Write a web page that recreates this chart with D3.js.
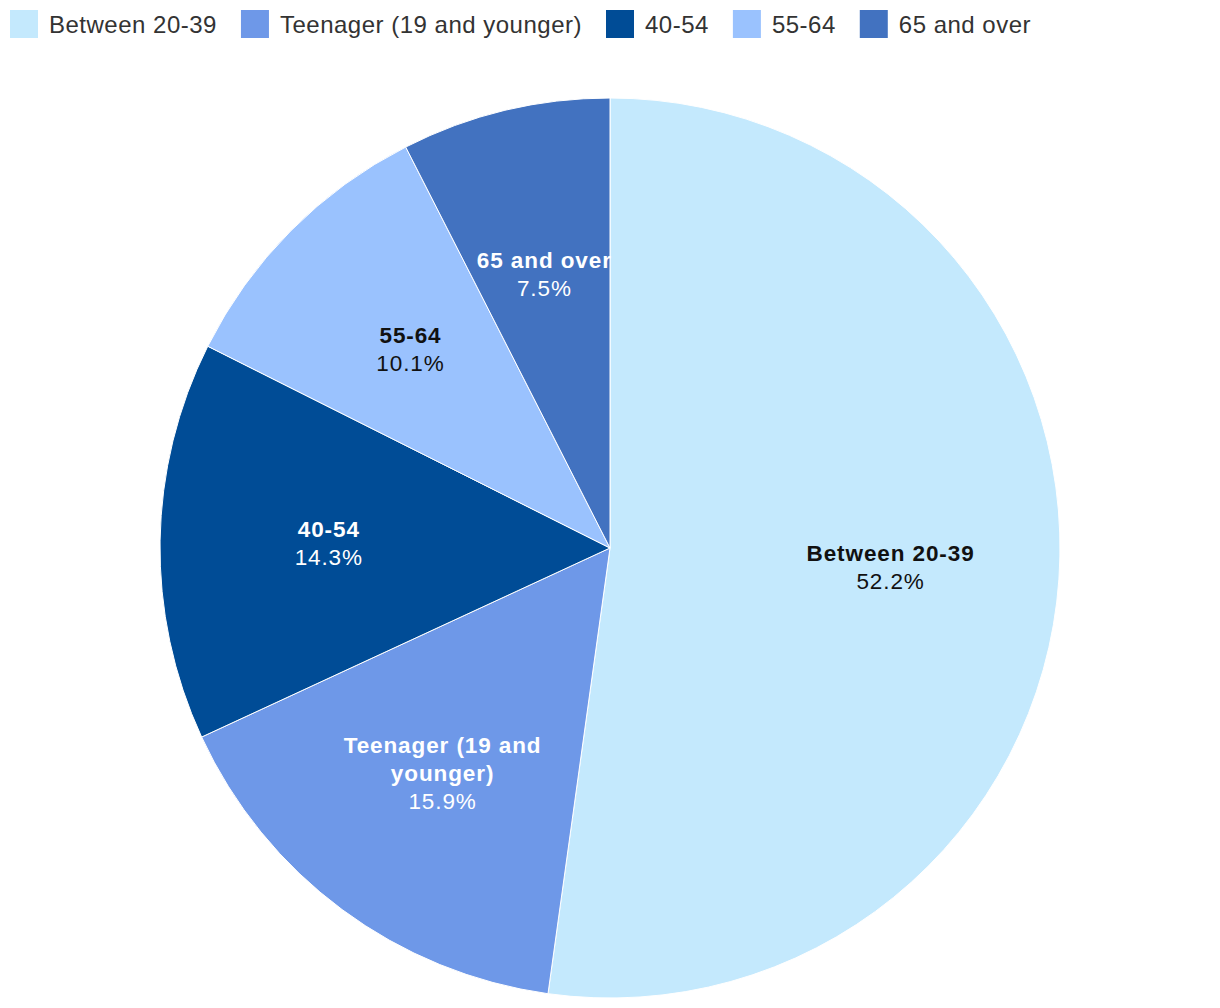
<!DOCTYPE html>
<html>
<head>
<meta charset="utf-8">
<script src="https://cdn.jsdelivr.net/npm/d3@7"></script>
<style>
  html, body { margin: 0; padding: 0; background: #fff; }
  svg { display: block; }
</style>
</head>
<body>
<svg id="chart" width="1220" height="1008"></svg>
<script>
const categories = ["Between 20-39", "Teenager (19 and younger)", "40-54", "55-64", "65 and over"];
const values = [52.2, 15.9, 14.3, 10.1, 7.5];
const colors = ["#c4e9fd", "#6e98e8", "#004c96", "#9ac2fe", "#4272c0"];
const labelColors = ["#111111", "#ffffff", "#ffffff", "#111111", "#ffffff"];

const W = 1220, H = 1008;
const cx = 610, cy = 548, R = 450;
const FONT = "'Liberation Sans', Arial, sans-serif";

const svg = d3.select("#chart");

// Legend
const legend = svg.append("g").attr("class", "legend");
let lx = 10;
categories.forEach((c, i) => {
  const g = legend.append("g").attr("transform", `translate(${lx},10)`);
  g.append("rect").attr("width", 28).attr("height", 28).attr("fill", colors[i]);
  const t = g.append("text")
    .attr("x", 39).attr("y", 14)
    .attr("dominant-baseline", "central")
    .attr("font-family", FONT).attr("font-size", 24)
    .attr("letter-spacing", "0.5px")
    .attr("fill", "#333").text(c);
  const w = t.node().getComputedTextLength();
  lx += 39 + w + 24;
});

// Pie
const data = categories.map((c, i) => ({ name: c, value: values[i], color: colors[i], lc: labelColors[i] }));
const pie = d3.pie().value(d => d.value).sort(null);
const arcs = pie(data);
const arc = d3.arc().innerRadius(0).outerRadius(R);
const labelArc = d3.arc().innerRadius(R * 0.625).outerRadius(R * 0.625);

const g = svg.append("g").attr("transform", `translate(${cx},${cy})`);
g.selectAll("path").data(arcs).enter().append("path")
  .attr("d", arc).attr("fill", d => d.data.color)
  .attr("stroke", "#fff").attr("stroke-width", 1);

const LFS = 22.5, LLS = "0.9px";
function wrapLines(text, maxW) {
  const tmp = svg.append("text").attr("font-family", FONT).attr("font-size", LFS)
    .attr("font-weight", "bold").attr("letter-spacing", LLS);
  const words = text.split(" ");
  const lines = [];
  let cur = "";
  words.forEach(w => {
    const test = cur ? cur + " " + w : w;
    tmp.text(test);
    if (tmp.node().getComputedTextLength() > maxW && cur) {
      lines.push(cur); cur = w;
    } else cur = test;
  });
  if (cur) lines.push(cur);
  tmp.remove();
  return lines;
}

arcs.forEach(a => {
  const [x, y] = labelArc.centroid(a);
  const nameLines = wrapLines(a.data.name, 215);
  const lines = nameLines.map(s => ({ s, bold: true })).concat([{ s: a.data.value.toFixed(1) + "%", bold: false }]);
  const lh = 28;
  const y0 = y - (lines.length - 1) * lh / 2;
  const t = g.append("text")
    .attr("text-anchor", "middle")
    .attr("font-family", FONT).attr("font-size", LFS)
    .attr("letter-spacing", LLS)
    .attr("fill", a.data.lc);
  lines.forEach((l, i) => {
    t.append("tspan").attr("x", x).attr("y", y0 + i * lh)
      .attr("dominant-baseline", "central")
      .attr("font-weight", l.bold ? "bold" : "normal")
      .text(l.s);
  });
});
</script>
</body>
</html>
